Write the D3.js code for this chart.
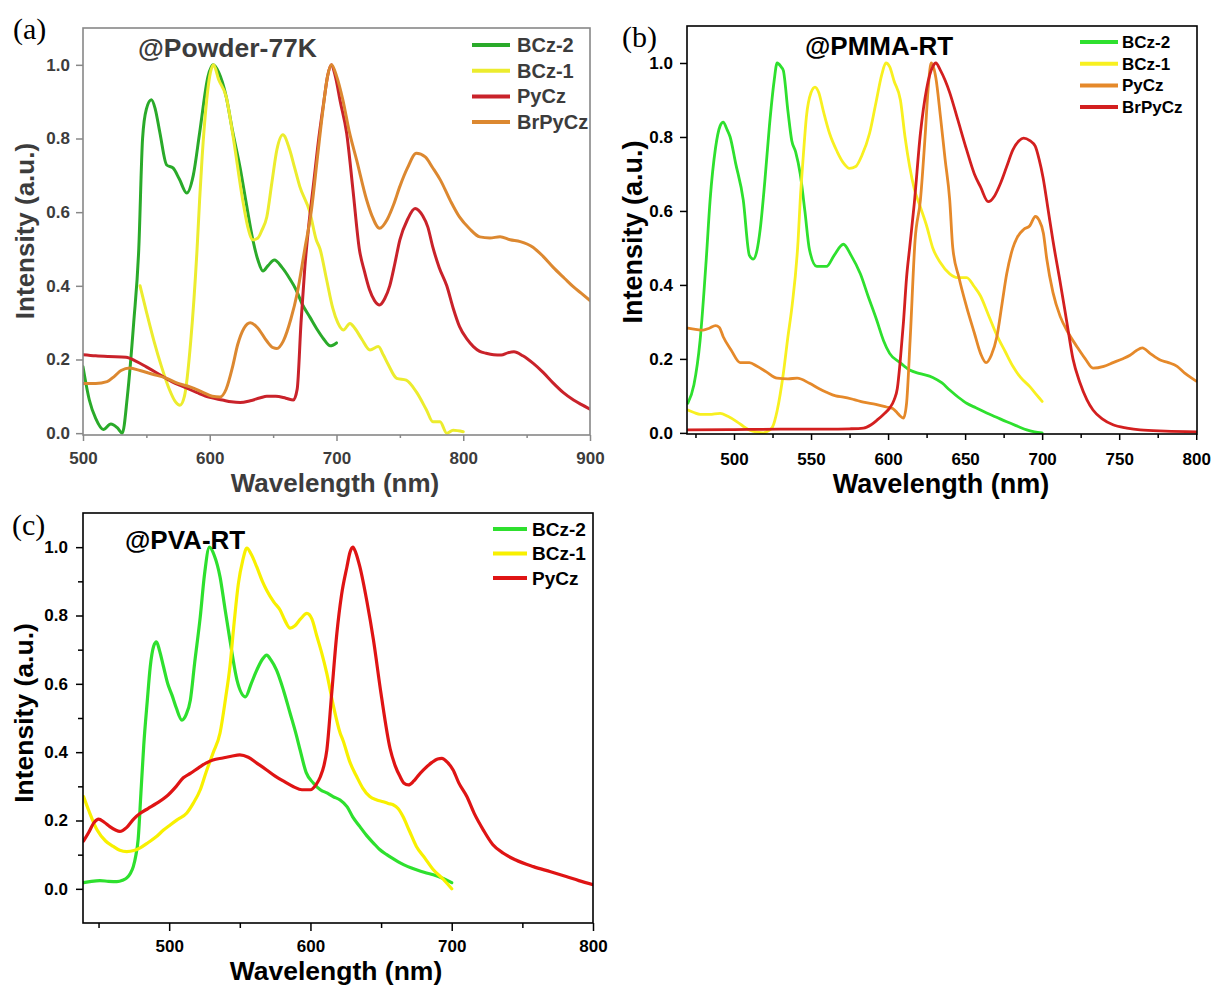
<!DOCTYPE html>
<html>
<head>
<meta charset="utf-8">
<script src="https://cdn.jsdelivr.net/npm/d3@7"></script>
<style>
  body { margin: 0; background: #fff; }
  svg { display: block; font-family: "Liberation Sans", Arial, sans-serif; font-weight: bold; }
</style>
</head>
<body>
<svg id="chart" width="1215" height="987"></svg>
<script>
// (a) powder at 77 K, [wavelength nm, intensity]
const powderBCz2 = [[500,0.18],[505,0.09],[510,0.04],[516,0.01],[522,0.025],[527,0.015],[531,0.0],[535,0.1],[540,0.3],[544,0.5],[547,0.8],[550,0.88],[554,0.905],[557,0.88],[560.7,0.815],[566,0.728],[571,0.72],[576,0.69],[581.8,0.652],[587,0.70],[592,0.815],[598.6,0.968],[602.6,1.0],[607,0.98],[613,0.913],[618,0.82],[624,0.72],[629,0.62],[634,0.525],[638,0.47],[642,0.44],[646,0.455],[651,0.47],[657,0.45],[663,0.42],[668,0.39],[673,0.35],[679,0.315],[685,0.28],[690,0.255],[695,0.237],[700,0.245]];
const powderBCz1 = [[545,0.40],[550,0.33],[556,0.25],[562,0.18],[568,0.12],[573,0.085],[576.5,0.076],[580,0.1],[585,0.25],[590,0.5],[592,0.633],[594,0.75],[597.6,0.905],[600,0.97],[603,1.0],[607,0.96],[613,0.913],[618,0.815],[626,0.633],[630,0.56],[634,0.525],[638,0.53],[641,0.55],[645,0.587],[649,0.68],[653,0.77],[657.7,0.81],[663,0.77],[667,0.72],[671,0.67],[679,0.6],[684,0.525],[687,0.5],[692,0.42],[697,0.34],[701,0.3],[705.4,0.28],[710.6,0.298],[714.6,0.284],[720,0.255],[726.4,0.226],[733,0.235],[737,0.212],[741,0.185],[747.5,0.149],[755,0.144],[763,0.112],[771,0.063],[776,0.031],[781.7,0.031],[787,0.0],[792,0.008],[800,0.004]];
const powderPyCz = [[500,0.213],[510,0.21],[520,0.208],[534,0.206],[542,0.195],[550,0.18],[560,0.16],[570,0.14],[580,0.125],[590,0.11],[600,0.097],[610,0.09],[617,0.085],[624,0.083],[632,0.088],[640,0.096],[645,0.1],[652,0.1],[660,0.095],[666,0.09],[669,0.12],[672,0.3],[675,0.45],[678,0.56],[682,0.68],[686,0.8],[690,0.9],[693,0.97],[696,1.0],[699,0.97],[703,0.9],[708,0.815],[713,0.66],[718,0.5],[722,0.44],[726,0.39],[730,0.36],[734,0.348],[738,0.365],[742,0.40],[746,0.46],[750,0.525],[756,0.58],[762,0.61],[768,0.59],[772,0.56],[776,0.505],[781,0.45],[787,0.40],[792,0.34],[797,0.29],[803,0.255],[808,0.235],[813,0.222],[818,0.217],[824,0.213],[830,0.212],[835,0.218],[840,0.221],[847,0.21],[855,0.19],[863,0.165],[871,0.136],[879,0.11],[887,0.09],[893,0.078],[900,0.065]];
const powderBrPyCz = [[500,0.135],[510,0.135],[519,0.14],[525,0.155],[530,0.17],[537,0.177],[545,0.17],[555,0.16],[565,0.15],[575,0.135],[585,0.125],[595,0.11],[602,0.1],[608,0.098],[613,0.12],[618,0.18],[622,0.24],[627,0.285],[632,0.30],[638,0.285],[645,0.25],[650,0.232],[653,0.23],[658,0.25],[664,0.31],[669,0.38],[675,0.5],[680,0.6],[685,0.75],[689,0.87],[693,0.97],[696,1.0],[700,0.97],[705,0.905],[710,0.82],[716,0.74],[723.8,0.633],[728,0.59],[734,0.556],[740,0.58],[745,0.62],[750,0.67],[756,0.72],[763,0.76],[770,0.75],[776,0.72],[782,0.687],[790,0.63],[797,0.587],[805,0.555],[813,0.533],[821,0.53],[829,0.533],[837,0.525],[845,0.52],[855,0.505],[863,0.48],[871,0.45],[880,0.42],[887,0.397],[893,0.38],[900,0.36]];

// (b) PMMA film, room temperature
const pmmaBCz2 = [[470,0.08],[474,0.13],[478,0.25],[482,0.47],[484.5,0.63],[488,0.77],[491,0.83],[493,0.84],[495.5,0.82],[497.5,0.80],[501,0.73],[506,0.63],[510,0.48],[512.5,0.47],[515,0.495],[517,0.55],[520,0.68],[523,0.83],[526,0.95],[528,1.0],[530.5,0.99],[532,0.98],[535,0.87],[537.5,0.79],[540,0.76],[543,0.70],[546,0.6],[549,0.495],[553.7,0.45],[557,0.45],[560,0.45],[565,0.48],[571,0.51],[576,0.48],[582,0.43],[587,0.37],[592.6,0.305],[597,0.25],[601,0.215],[607.8,0.19],[614,0.17],[620.8,0.16],[629,0.15],[635,0.135],[640,0.116],[646,0.095],[651,0.08],[657,0.068],[664,0.054],[670,0.043],[677,0.03],[684,0.018],[690,0.008],[695,0.003],[700,0.0]];
const pmmaBCz1 = [[470,0.062],[474,0.055],[478,0.05],[484,0.05],[491,0.053],[496,0.045],[502,0.03],[506,0.018],[510,0.008],[515,0.002],[519,0.0],[522,0.005],[525,0.016],[528,0.06],[532,0.16],[535,0.26],[537.6,0.34],[541.6,0.52],[543,0.63],[545,0.75],[547,0.855],[550,0.92],[552.6,0.935],[555,0.92],[558,0.87],[562,0.81],[567,0.76],[571,0.73],[575,0.715],[579,0.72],[583,0.75],[588,0.81],[592,0.89],[596,0.97],[598.6,1.0],[601,0.99],[604,0.95],[608,0.9],[611,0.8],[614,0.72],[617,0.66],[621,0.61],[625,0.56],[629,0.5],[634,0.46],[640,0.43],[645,0.42],[651,0.42],[656,0.395],[660,0.37],[665,0.32],[671,0.26],[676,0.22],[681,0.18],[686,0.15],[692,0.125],[696,0.105],[700,0.085]];
const pmmaPyCz = [[470,0.283],[475,0.28],[480,0.278],[484,0.283],[488,0.29],[490.5,0.285],[493,0.26],[498,0.225],[504,0.19],[510,0.19],[515,0.18],[521,0.165],[528,0.148],[535,0.146],[541,0.148],[549,0.134],[555,0.12],[560,0.11],[566,0.1],[571,0.097],[578,0.09],[584,0.083],[592,0.077],[599,0.07],[603,0.066],[606,0.054],[608,0.045],[610,0.04],[612,0.08],[614.3,0.25],[617.5,0.52],[621,0.63],[624,0.8],[626,0.93],[628,1.0],[631,0.96],[634,0.855],[637,0.74],[640,0.63],[642,0.5],[646,0.42],[651,0.34],[656,0.27],[660,0.215],[663.6,0.19],[667,0.21],[670.6,0.26],[674,0.35],[677,0.43],[681,0.5],[684,0.53],[688,0.55],[692,0.56],[695.6,0.585],[698,0.575],[700.8,0.54],[703,0.47],[707,0.38],[711.7,0.315],[717,0.27],[722.6,0.233],[728,0.2],[733,0.175],[740,0.18],[746,0.19],[752,0.2],[757,0.21],[761,0.222],[765,0.23],[770,0.215],[776.6,0.197],[782,0.19],[787.6,0.18],[793,0.16],[800,0.14]];
const pmmaBrPyCz = [[470,0.008],[500,0.009],[530,0.01],[560,0.01],[575,0.011],[584,0.013],[589,0.022],[593,0.035],[597,0.05],[601,0.067],[604,0.09],[606,0.12],[608,0.2],[610,0.3],[612,0.42],[614,0.5],[617,0.62],[621,0.81],[625,0.93],[629,0.99],[631,1.0],[634,0.98],[640,0.92],[645,0.85],[651,0.765],[656,0.7],[660,0.665],[665,0.625],[669,0.64],[673,0.675],[677,0.72],[681,0.765],[685,0.79],[688,0.797],[692,0.79],[695.5,0.775],[698,0.74],[700.6,0.69],[704,0.6],[707,0.52],[712,0.4],[716,0.3],[720,0.2],[724.6,0.135],[729,0.09],[733,0.062],[739,0.038],[746,0.022],[755,0.013],[763.6,0.008],[780,0.005],[800,0.003]];

// (c) PVA film, room temperature
const pvaBCz2 = [[439.4,0.018],[445,0.022],[451,0.024],[457,0.022],[463,0.021],[467,0.025],[470,0.032],[472.5,0.045],[474.6,0.065],[476.5,0.1],[478,0.143],[480,0.28],[482,0.42],[484.5,0.55],[486.6,0.65],[489,0.71],[491,0.723],[493,0.7],[496,0.65],[499,0.6],[502,0.567],[505,0.53],[509,0.494],[512,0.51],[515,0.553],[518,0.66],[522,0.796],[525,0.92],[528.5,1.0],[532,0.975],[536,0.913],[539.5,0.82],[543,0.728],[548,0.611],[554,0.562],[558,0.6],[562,0.64],[566,0.672],[569,0.684],[572,0.67],[576,0.64],[581,0.58],[585.6,0.514],[590,0.45],[592.7,0.406],[597,0.34],[602,0.31],[607,0.29],[612,0.28],[616,0.27],[621,0.26],[626,0.24],[630,0.21],[635,0.182],[640,0.155],[644.6,0.134],[649,0.115],[654,0.1],[659,0.087],[663.5,0.076],[669,0.065],[675,0.056],[681,0.048],[687,0.041],[694,0.03],[700,0.018]];
const pvaBCz1 = [[439.4,0.27],[443,0.23],[449,0.172],[455,0.14],[460.5,0.124],[465,0.113],[470,0.109],[475,0.112],[479.5,0.12],[485,0.135],[491,0.153],[496,0.172],[500.7,0.187],[506,0.203],[512.5,0.222],[517,0.25],[522,0.29],[526,0.34],[531,0.397],[536,0.456],[540,0.56],[543,0.65],[546,0.78],[549,0.894],[552,0.96],[555,0.997],[558,0.98],[562,0.942],[566,0.9],[569,0.874],[574,0.84],[578.5,0.816],[582,0.785],[585.6,0.763],[589,0.77],[593,0.79],[597.5,0.806],[601,0.79],[604.5,0.74],[608,0.69],[611.6,0.63],[616,0.54],[621,0.456],[623,0.435],[628,0.37],[632.8,0.328],[637,0.295],[642,0.27],[647,0.26],[651.5,0.255],[655,0.25],[658.5,0.246],[662,0.235],[665.6,0.211],[670,0.17],[675,0.124],[681,0.09],[687,0.056],[694,0.028],[700,0.0]];
const pvaPyCz = [[439.4,0.14],[443,0.165],[447,0.195],[450,0.204],[454,0.195],[458,0.182],[462,0.172],[465,0.168],[470,0.18],[475,0.205],[479.5,0.221],[485,0.235],[491,0.25],[498,0.27],[505,0.3],[510,0.325],[515,0.338],[521,0.355],[526,0.368],[531,0.377],[538,0.383],[544,0.388],[550,0.392],[556,0.385],[562,0.368],[569,0.348],[575,0.33],[581,0.315],[588,0.299],[594,0.29],[600,0.29],[604,0.305],[607,0.328],[609.5,0.36],[611.6,0.406],[615,0.57],[618.7,0.748],[622,0.86],[625.8,0.942],[628,0.985],[630,1.0],[632,0.985],[635,0.942],[640,0.84],[644.6,0.728],[650,0.57],[656.4,0.41],[660,0.36],[663.5,0.328],[666,0.31],[669.4,0.304],[673,0.315],[676,0.33],[680,0.348],[686,0.37],[690,0.38],[693,0.382],[697,0.37],[701,0.348],[705,0.31],[710.7,0.27],[716,0.22],[722.4,0.172],[729,0.13],[736.6,0.104],[745,0.085],[757.8,0.065],[770,0.05],[781,0.036],[790,0.024],[800,0.012]];

const xTicksA = [500, 600, 700, 800, 900];
const xTicksB = [500, 550, 600, 650, 700, 750, 800];
const xTicksC = [500, 600, 700, 800];
const yTicks = [0, 0.2, 0.4, 0.6, 0.8, 1.0];

const panels = [
  {
    label: '(a)', labelX: 13, labelY: 39,
    title: '@Powder-77K', titleX: 138, titleY: 57, titleSize: 26.5,
    left: 83, right: 590, top: 28, bottom: 435,
    xDomain: [500, 900], yDomain: [-0.005, 1.1],
    xTicks: xTicksA, xMinor: [550, 650, 750, 850], yMinor: [],
    frame: '#888', ink: '#3c3c3c', tickSize: 17, lineWidth: 3,
    xPad: 11, yPad: 6, majorLen: 6, minorLen: 3,
    xTitleX: 335, xTitleY: 492, yTitleX: 34, yTitleY: 231, axisTitleSize: 26,
    legX1: 472, legX2: 510, legTextX: 517, legY0: 45, legDy: 25.7, legSize: 20,
    series: [
      { name: 'BCz-2', data: powderBCz2, color: '#2aaa2a' },
      { name: 'BCz-1', data: powderBCz1, color: '#ecec2e' },
      { name: 'PyCz', data: powderPyCz, color: '#c9222a' },
      { name: 'BrPyCz', data: powderBrPyCz, color: '#dc8830' }
    ]
  },
  {
    label: '(b)', labelX: 622, labelY: 47,
    title: '@PMMA-RT', titleX: 805, titleY: 55, titleSize: 26,
    left: 687, right: 1197, top: 26, bottom: 434,
    xDomain: [469.5, 800.5], yDomain: [-0.003, 1.1],
    xTicks: xTicksB, xMinor: [475, 525, 575, 625, 675, 725, 775], yMinor: [],
    frame: '#000', ink: '#000', tickSize: 17, lineWidth: 2.8,
    xPad: 13, yPad: 7, majorLen: 6, minorLen: 4,
    xTitleX: 941, xTitleY: 493, yTitleX: 642, yTitleY: 232, axisTitleSize: 27,
    legX1: 1080, legX2: 1118, legTextX: 1122, legY0: 42, legDy: 21.7, legSize: 17,
    series: [
      { name: 'BCz-2', data: pmmaBCz2, color: '#2ee02e' },
      { name: 'BCz-1', data: pmmaBCz1, color: '#f8f020' },
      { name: 'PyCz', data: pmmaPyCz, color: '#e5892a' },
      { name: 'BrPyCz', data: pmmaBrPyCz, color: '#d31f1f' }
    ]
  },
  {
    label: '(c)', labelX: 12, labelY: 535,
    title: '@PVA-RT', titleX: 125, titleY: 549, titleSize: 26,
    left: 83, right: 593, top: 513, bottom: 923,
    xDomain: [439, 800], yDomain: [-0.1, 1.1],
    xTicks: xTicksC, xMinor: [450, 550, 650, 750], yMinor: [0.1, 0.3, 0.5, 0.7, 0.9],
    frame: '#000', ink: '#000', tickSize: 17, lineWidth: 3.2,
    xPad: 9, yPad: 8, majorLen: 8, minorLen: 5,
    xTitleX: 336, xTitleY: 980, yTitleX: 33, yTitleY: 713, axisTitleSize: 26.5,
    legX1: 493, legX2: 527, legTextX: 532, legY0: 529, legDy: 24.5, legSize: 19,
    series: [
      { name: 'BCz-2', data: pvaBCz2, color: '#2ee02e' },
      { name: 'BCz-1', data: pvaBCz1, color: '#f8f000' },
      { name: 'PyCz', data: pvaPyCz, color: '#df1414' }
    ]
  }
];

const svg = d3.select('#chart');
panels.forEach(drawPanel);

function drawPanel(p, i) {
  const x = d3.scaleLinear().domain(p.xDomain).range([p.left, p.right]);
  const y = d3.scaleLinear().domain(p.yDomain).range([p.bottom, p.top]);
  const g = svg.append('g');

  g.append('clipPath').attr('id', 'clip' + i)
    .append('rect')
    .attr('x', p.left).attr('y', p.top)
    .attr('width', p.right - p.left).attr('height', p.bottom - p.top);

  // minor ticks
  g.append('g')
    .attr('transform', `translate(0,${p.bottom})`)
    .call(d3.axisBottom(x).tickValues(p.xMinor).tickSize(p.minorLen).tickFormat(''))
    .call(a => a.select('.domain').remove())
    .selectAll('line').attr('stroke', p.frame).attr('stroke-width', 1.5);
  g.append('g')
    .attr('transform', `translate(${p.left},0)`)
    .call(d3.axisLeft(y).tickValues(p.yMinor).tickSize(p.minorLen).tickFormat(''))
    .call(a => a.select('.domain').remove())
    .selectAll('line').attr('stroke', p.frame).attr('stroke-width', 1.5);

  const xAxis = g.append('g')
    .attr('transform', `translate(0,${p.bottom})`)
    .call(d3.axisBottom(x).tickValues(p.xTicks).tickSize(p.majorLen).tickPadding(p.xPad).tickFormat(d3.format('d')));
  const yAxis = g.append('g')
    .attr('transform', `translate(${p.left},0)`)
    .call(d3.axisLeft(y).tickValues(yTicks).tickSize(7).tickPadding(p.yPad).tickFormat(d3.format('.1f')));
  [xAxis, yAxis].forEach(a => {
    a.select('.domain').remove();
    a.selectAll('line').attr('stroke', p.frame).attr('stroke-width', 1.5);
    a.selectAll('text')
      .attr('fill', p.ink)
      .style('font-family', '"Liberation Sans", Arial, sans-serif')
      .style('font-weight', 'bold')
      .style('font-size', p.tickSize + 'px');
  });

  const line = d3.line()
    .x(d => x(d[0]))
    .y(d => y(d[1]))
    .curve(d3.curveMonotoneX);

  g.append('g')
    .attr('clip-path', `url(#clip${i})`)
    .selectAll('path')
    .data(p.series)
    .enter().append('path')
    .attr('d', s => line(s.data))
    .attr('fill', 'none')
    .attr('stroke', s => s.color)
    .attr('stroke-width', p.lineWidth)
    .attr('stroke-linejoin', 'round')
    .attr('stroke-linecap', 'round');

  g.append('rect')
    .attr('x', p.left).attr('y', p.top)
    .attr('width', p.right - p.left).attr('height', p.bottom - p.top)
    .attr('fill', 'none')
    .attr('stroke', p.frame)
    .attr('stroke-width', 1.6);

  const legend = g.append('g')
    .selectAll('g')
    .data(p.series)
    .enter().append('g')
    .attr('transform', (s, k) => `translate(0,${p.legY0 + k * p.legDy})`);
  legend.append('line')
    .attr('x1', p.legX1).attr('x2', p.legX2)
    .attr('stroke', s => s.color)
    .attr('stroke-width', 4);
  legend.append('text')
    .attr('x', p.legTextX)
    .attr('dy', '0.35em')
    .attr('fill', p.ink)
    .attr('font-size', p.legSize)
    .text(s => s.name);

  g.append('text')
    .attr('x', p.titleX).attr('y', p.titleY)
    .attr('fill', p.ink)
    .attr('font-size', p.titleSize)
    .text(p.title);

  g.append('text')
    .attr('x', p.xTitleX).attr('y', p.xTitleY)
    .attr('text-anchor', 'middle')
    .attr('fill', p.ink)
    .attr('font-size', p.axisTitleSize)
    .text('Wavelength (nm)');

  g.append('text')
    .attr('transform', `translate(${p.yTitleX},${p.yTitleY}) rotate(-90)`)
    .attr('text-anchor', 'middle')
    .attr('fill', p.ink)
    .attr('font-size', p.axisTitleSize)
    .text('Intensity (a.u.)');

  g.append('text')
    .attr('x', p.labelX).attr('y', p.labelY)
    .attr('fill', '#000')
    .style('font-family', '"Liberation Serif", "Times New Roman", serif')
    .style('font-weight', 'normal')
    .attr('font-size', 30)
    .text(p.label);
}
</script>
</body>
</html>
